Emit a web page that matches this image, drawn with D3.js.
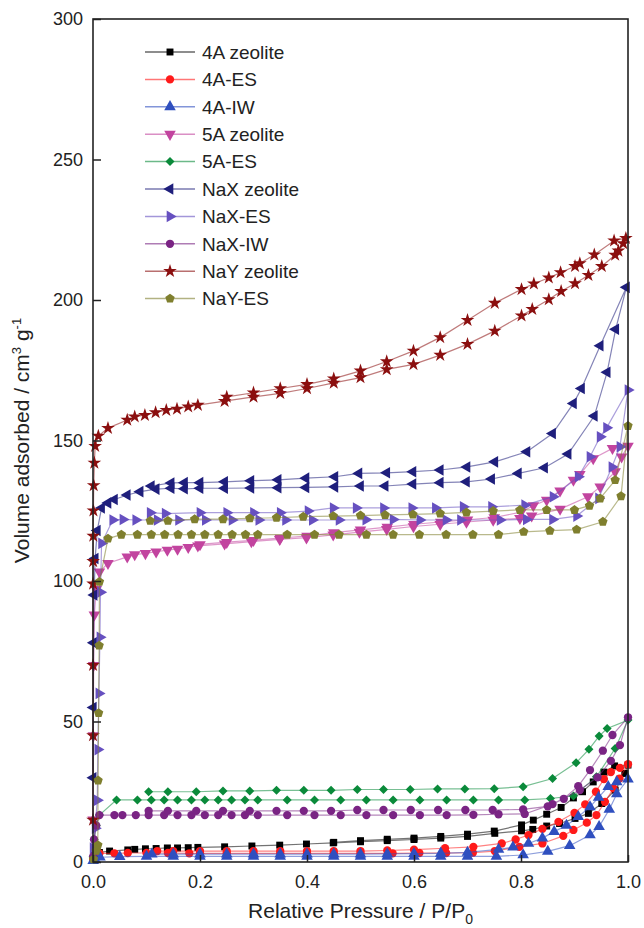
<!DOCTYPE html>
<html>
<head>
<meta charset="utf-8">
<script src="https://cdn.jsdelivr.net/npm/d3@7"></script>
<style>
  body { margin: 0; background: #fff; }
  svg text { font-family: "Liberation Sans", Arial, sans-serif; fill: #222; }
</style>
</head>
<body>
<div id="chart"></div>
<script>
// series names, colours and marker shapes (legend order)
var names = ["4A zeolite", "4A-ES", "4A-IW", "5A zeolite", "5A-ES", "NaX zeolite", "NaX-ES", "NaX-IW", "NaY zeolite", "NaY-ES"];
var colors = ["#000000", "#ff1a1a", "#2f4fbf", "#c2449f", "#0a8a3a", "#1f1f7c", "#6650c0", "#7a2484", "#8b0f0f", "#7f7f2e"];
var shapes = ["square", "circle", "up", "down", "diamond", "left", "right", "circle", "star", "pentagon"];

var xTicks = [0, 0.2, 0.4, 0.6, 0.8, 1.0];
var yTicks = [0, 50, 100, 150, 200, 250, 300];

// [P/P0, volume] : adsorption up to 1.0, then desorption back down
var s4A = [[0.0003,1.0],[0.002,2.5],[0.012,3.4],[0.031,3.9],[0.065,4.3],[0.078,4.5],[0.098,4.7],[0.118,4.8],[0.139,5.0],[0.158,5.0],[0.178,5.1],[0.196,5.2],[0.246,5.4],[0.297,5.7],[0.349,6.0],[0.399,6.4],[0.449,6.8],[0.5,7.2],[0.55,7.6],[0.6,8.0],[0.65,8.5],[0.7,9.1],[0.751,10.2],[0.801,11.1],[0.822,11.6],[0.848,12.8],[0.872,13.7],[0.901,15.5],[0.926,17.3],[0.951,20.8],[0.976,25.6],[0.994,31.5],[1.0,34.5],
  [0.975,34.2],[0.955,32.0],[0.935,28.5],[0.915,25.0],[0.898,22.8],[0.875,19.4],[0.848,17.0],[0.823,14.9],[0.801,13.2],[0.75,11.0],[0.7,9.9],[0.65,9.1],[0.6,8.5],[0.55,8.1],[0.5,7.6],[0.45,7.0]];

var s4AES = [[0.0003,0.8],[0.002,2.0],[0.012,3.1],[0.04,3.1],[0.065,3.2],[0.1,3.2],[0.14,3.2],[0.18,3.1],[0.2,3.1],[0.25,3.1],[0.3,3.1],[0.35,3.1],[0.4,3.1],[0.45,3.1],[0.5,3.1],[0.56,3.1],[0.61,3.2],[0.66,3.2],[0.71,3.3],[0.751,3.9],[0.797,5.4],[0.84,6.6],[0.879,9.3],[0.898,11.4],[0.923,14.0],[0.941,16.7],[0.957,21.4],[0.973,26.2],[0.984,29.7],[1.0,34.8],
  [0.985,33.5],[0.968,32.0],[0.955,29.5],[0.94,25.0],[0.92,20.5],[0.9,17.5],[0.87,14.3],[0.84,11.8],[0.814,9.6],[0.79,8.0],[0.764,6.6],[0.711,5.4],[0.658,4.9],[0.6,4.4],[0.55,4.1],[0.5,3.9],[0.45,3.9],[0.4,3.9],[0.35,3.9],[0.3,3.9],[0.25,3.9],[0.2,3.9],[0.15,3.9],[0.12,3.9]];

var s4AIW = [[0.0003,0.5],[0.003,1.2],[0.013,1.7],[0.05,1.9],[0.1,2.0],[0.15,2.0],[0.2,2.0],[0.25,2.0],[0.3,2.0],[0.35,2.0],[0.4,2.0],[0.45,2.0],[0.5,2.0],[0.55,2.0],[0.6,2.0],[0.65,2.0],[0.7,2.0],[0.754,2.0],[0.804,2.5],[0.85,3.8],[0.891,5.8],[0.929,9.6],[0.946,12.6],[0.965,18.7],[0.979,24.2],[1.0,29.5],
  [0.979,28.5],[0.963,26.8],[0.945,23.0],[0.929,19.6],[0.907,16.1],[0.885,13.0],[0.862,10.8],[0.84,8.5],[0.814,6.6],[0.785,5.3],[0.758,4.5],[0.7,3.4],[0.65,3.1],[0.6,3.0],[0.55,2.9],[0.5,2.8],[0.45,2.8],[0.4,2.8],[0.35,2.8],[0.3,2.8],[0.25,2.8],[0.2,2.8],[0.15,2.8],[0.11,2.8]];

var s5A = [[0.0002,15],[0.0006,45],[0.0012,70],[0.0025,88],[0.006,97],[0.012,103.3],[0.028,106.3],[0.064,108.6],[0.078,109.4],[0.098,109.8],[0.118,110.4],[0.139,111.0],[0.158,111.4],[0.178,112.0],[0.196,112.5],[0.246,113.2],[0.296,114.0],[0.349,114.8],[0.399,115.4],[0.449,116.4],[0.498,117.4],[0.549,118.4],[0.599,119.4],[0.649,120.2],[0.698,121.0],[0.748,121.7],[0.798,122.3],[0.82,123.2],[0.873,125.6],[0.925,130.0],[0.948,133.5],[0.976,138.9],[0.988,144.2],[1.0,148.0],
  [0.971,147.2],[0.935,143.6],[0.91,138.0],[0.898,135.9],[0.873,132.1],[0.848,128.8],[0.823,126.8],[0.8,124.5],[0.75,122.6],[0.7,121.8],[0.65,121.0],[0.6,120.2],[0.55,119.2],[0.5,118.2],[0.45,117.2],[0.4,116.0],[0.35,115.3],[0.3,114.5],[0.25,113.8],[0.2,113.0]];

var s5AES = [[0.0003,2],[0.002,8],[0.006,13],[0.012,16.7],[0.044,22.1],[0.083,22.1],[0.109,22.1],[0.133,22.1],[0.158,22.1],[0.184,22.1],[0.209,22.1],[0.234,22.1],[0.259,22.1],[0.284,22.1],[0.308,22.1],[0.363,22.1],[0.414,22.1],[0.463,22.1],[0.511,22.1],[0.561,22.1],[0.611,22.1],[0.661,22.1],[0.711,22.1],[0.758,22.1],[0.807,22.1],[0.855,22.6],[0.898,23.5],[0.941,30.3],[0.976,40.4],[1.0,50.5],
  [0.961,47.5],[0.946,44.8],[0.927,40.1],[0.903,35.3],[0.859,29.7],[0.804,26.8],[0.75,26.1],[0.695,26.0],[0.644,26.0],[0.593,25.8],[0.543,25.8],[0.494,25.8],[0.445,25.5],[0.394,25.5],[0.343,25.5],[0.293,25.3],[0.243,25.3],[0.193,25.0],[0.14,25.0],[0.104,25.0]];

var sNaX = [[0.0002,30],[0.0005,55],[0.001,78],[0.002,95],[0.004,108],[0.008,118],[0.016,126],[0.028,127.8],[0.04,129],[0.064,130.6],[0.088,131.8],[0.118,132.7],[0.146,133.0],[0.171,132.8],[0.2,133.0],[0.246,133.0],[0.295,133.1],[0.346,133.2],[0.398,133.3],[0.452,133.5],[0.5,133.8],[0.546,133.8],[0.598,134.5],[0.649,135.0],[0.698,135.3],[0.745,136.3],[0.795,138.3],[0.844,140.3],[0.888,145.2],[0.937,158.7],[0.961,174.3],[0.977,189.6],[0.997,204.5],
  [0.948,183.7],[0.913,168.5],[0.898,163.2],[0.859,152.5],[0.811,146.0],[0.751,142.4],[0.699,140.6],[0.649,139.5],[0.598,138.9],[0.549,138.5],[0.497,138.3],[0.452,137.1],[0.398,136.6],[0.346,136.0],[0.295,135.7],[0.246,135.3],[0.2,135.0],[0.171,135.0],[0.146,134.9],[0.109,133.8]];

var sNaXES = [[0.0003,5],[0.004,12],[0.008,22],[0.009,40],[0.011,60],[0.013,80],[0.014,96],[0.016,113.4],[0.037,121.7],[0.056,121.9],[0.08,121.7],[0.12,121.7],[0.16,121.7],[0.21,121.7],[0.26,121.7],[0.31,121.7],[0.36,121.7],[0.41,121.7],[0.46,121.7],[0.51,121.8],[0.561,121.9],[0.611,121.7],[0.66,121.7],[0.687,121.7],[0.761,121.7],[0.81,121.9],[0.859,121.9],[0.904,123.1],[0.945,129.4],[0.97,140.6],[0.985,147.8],[1.0,168.0],
  [0.96,154.5],[0.948,151.3],[0.929,144.2],[0.907,137.1],[0.86,130.0],[0.807,127.0],[0.745,126.4],[0.692,126.4],[0.64,126.0],[0.596,126.0],[0.543,126.0],[0.492,126.0],[0.449,126.0],[0.402,124.9],[0.35,124.3],[0.3,124.3],[0.25,124.3],[0.2,124.3],[0.135,124.0],[0.107,124.3]];

var sNaXIW = [[0.0003,2],[0.002,8],[0.006,13],[0.012,16.7],[0.04,16.7],[0.055,16.7],[0.08,16.7],[0.104,16.7],[0.133,16.7],[0.158,16.7],[0.184,16.7],[0.209,16.7],[0.234,16.7],[0.259,16.7],[0.284,16.7],[0.308,16.7],[0.363,16.7],[0.414,16.7],[0.463,16.7],[0.511,16.7],[0.561,16.7],[0.611,16.7],[0.661,16.7],[0.711,16.8],[0.758,17.0],[0.807,17.1],[0.859,20.6],[0.91,25.6],[0.943,30.1],[0.968,36.0],[0.985,41.6],[1.0,51.5],
  [0.971,45.2],[0.953,39.6],[0.929,32.7],[0.907,27.0],[0.88,22.5],[0.85,19.8],[0.804,18.7],[0.747,18.5],[0.696,18.5],[0.645,18.5],[0.594,18.5],[0.543,18.5],[0.494,18.5],[0.445,18.2],[0.394,18.2],[0.343,18.2],[0.293,18.2],[0.243,18.2],[0.193,18.2],[0.14,18.2],[0.104,18.2]];

var sNaY = [[0.00002,15],[0.00005,45],[0.0001,70],[0.0002,99],[0.0003,107],[0.0005,116],[0.0008,125],[0.0013,134],[0.0025,142],[0.004,148],[0.01,151.6],[0.028,154.4],[0.064,157.3],[0.078,158.5],[0.097,159.0],[0.117,160.0],[0.137,160.8],[0.157,161.2],[0.178,162.0],[0.196,162.6],[0.246,164.0],[0.3,165.5],[0.35,166.8],[0.4,168.5],[0.45,170.5],[0.5,172.4],[0.549,175.3],[0.599,177.1],[0.649,180.4],[0.7,184.3],[0.751,189.0],[0.801,194.4],[0.821,196.7],[0.852,200.2],[0.875,203.1],[0.901,205.9],[0.926,208.8],[0.951,212.0],[0.976,216.0],[0.982,217.5],[0.991,220.1],[0.996,222.0],
  [0.974,221.1],[0.937,216.1],[0.91,213.0],[0.901,212.0],[0.874,209.8],[0.852,207.9],[0.824,205.8],[0.801,203.8],[0.751,198.9],[0.7,192.8],[0.649,186.7],[0.599,181.9],[0.549,178.1],[0.5,174.8],[0.45,172.0],[0.4,170.0],[0.35,168.5],[0.3,167.0],[0.25,165.5]];

var sNaYES = [[0.001,1],[0.006,4],[0.009,6],[0.0095,29],[0.0105,53],[0.0115,77],[0.012,99.7],[0.028,115.1],[0.053,116.5],[0.083,116.5],[0.109,116.5],[0.134,116.5],[0.159,116.5],[0.184,116.5],[0.209,116.5],[0.234,116.5],[0.26,116.5],[0.285,116.5],[0.308,116.5],[0.363,116.5],[0.414,116.5],[0.46,116.5],[0.511,116.5],[0.561,116.5],[0.61,116.5],[0.66,116.5],[0.71,116.5],[0.758,116.5],[0.805,117.5],[0.854,117.9],[0.904,118.3],[0.953,121.1],[0.987,130.2],[1.0,155.2],
  [0.976,135.9],[0.948,129.4],[0.928,126.8],[0.9,125.3],[0.848,125.3],[0.798,125.3],[0.748,124.9],[0.698,124.4],[0.649,124.0],[0.598,123.7],[0.546,123.5],[0.5,123.3],[0.449,123.1],[0.393,122.9],[0.343,122.5],[0.293,122.3],[0.243,122.0],[0.19,122.0],[0.14,121.4],[0.107,121.4]];

var seriesData = [s4A, s4AES, s4AIW, s5A, s5AES, sNaX, sNaXES, sNaXIW, sNaY, sNaYES];

var W = 644, H = 928;
var m = {left: 93, right: 628, top: 19, bottom: 862};

var svg = d3.select("#chart").append("svg").attr("width", W).attr("height", H);

var x = d3.scaleLinear().domain([0, 1]).range([m.left, m.right]);
var y = d3.scaleLinear().domain([0, 300]).range([m.bottom, m.top]);

// marker shapes
var pentagon = {
  draw: function(ctx, size) {
    var r = Math.sqrt(size / 2.38);
    for (var i = 0; i < 5; i++) {
      var a = -Math.PI / 2 + i * 2 * Math.PI / 5;
      if (i === 0) ctx.moveTo(r * Math.cos(a), r * Math.sin(a));
      else ctx.lineTo(r * Math.cos(a), r * Math.sin(a));
    }
    ctx.closePath();
  }
};
function symPath(shape) {
  var t = d3.symbolTriangle;
  var map = {square: [d3.symbolSquare, 48], circle: [d3.symbolCircle, 54], up: [t, 58], down: [t, 58],
    left: [t, 58], right: [t, 58], diamond: [d3.symbolDiamond2, 52], star: [d3.symbolStar, 58], pentagon: [pentagon, 58]};
  return d3.symbol().type(map[shape][0]).size(map[shape][1])();
}
var rot = {down: 180, left: -90, right: 90};

var line = d3.line().x(function(d) { return x(d[0]); }).y(function(d) { return y(d[1]); });

seriesData.forEach(function(data, i) {
  var g = svg.append("g");
  g.append("path").datum(data)
    .attr("d", line)
    .attr("fill", "none")
    .attr("stroke", colors[i])
    .attr("stroke-opacity", 0.55)
    .attr("stroke-width", 1.2);
  g.selectAll("path.pt").data(data).enter().append("path")
    .attr("class", "pt")
    .attr("d", symPath(shapes[i]))
    .attr("transform", function(d) { return "translate(" + x(d[0]) + "," + y(d[1]) + ") rotate(" + (rot[shapes[i]] || 0) + ")"; })
    .attr("fill", colors[i]);
});

// axes, ticks pointing inward
var yAxis = svg.append("g").attr("transform", "translate(" + m.left + ",0)")
  .call(d3.axisLeft(y).tickValues(yTicks).tickSize(-8).tickPadding(10).tickFormat(d3.format("d")));
var xAxis = svg.append("g").attr("transform", "translate(0," + m.bottom + ")")
  .call(d3.axisBottom(x).tickValues(xTicks).tickSize(-7).tickPadding(13).tickFormat(d3.format(".1f")));
[yAxis, xAxis].forEach(function(a) {
  a.select(".domain").remove();
  a.selectAll("line").attr("stroke", "#222").attr("stroke-width", 1.5);
  a.selectAll("text").attr("font-size", 18).attr("fill", "#222")
    .style("font-family", "'Liberation Sans', Arial, sans-serif");
});

svg.append("rect").attr("x", m.left).attr("y", m.top)
  .attr("width", m.right - m.left).attr("height", m.bottom - m.top)
  .attr("fill", "none").attr("stroke", "#222").attr("stroke-width", 1.6);

// axis titles
var xt = svg.append("text").attr("x", (m.left + m.right) / 2).attr("y", 918)
  .attr("text-anchor", "middle").attr("font-size", 21);
xt.append("tspan").text("Relative Pressure / P/P");
xt.append("tspan").attr("font-size", 14).attr("dy", 6).text("0");

var yt = svg.append("text").attr("transform", "translate(29," + ((m.top + m.bottom) / 2) + ") rotate(-90)")
  .attr("text-anchor", "middle").attr("font-size", 21);
yt.append("tspan").text("Volume adsorbed / cm");
yt.append("tspan").attr("font-size", 13).attr("dy", -8).text("3");
yt.append("tspan").attr("dy", 8).text(" g");
yt.append("tspan").attr("font-size", 13).attr("dy", -8).text("-1");

// legend
var leg = svg.append("g");
names.forEach(function(n, i) {
  var ly = 52 + i * 27.4;
  leg.append("line").attr("x1", 145).attr("x2", 195).attr("y1", ly).attr("y2", ly)
    .attr("stroke", colors[i]).attr("stroke-opacity", 0.6).attr("stroke-width", 1.5);
  leg.append("path").attr("d", symPath(shapes[i]))
    .attr("transform", "translate(170," + ly + ") rotate(" + (rot[shapes[i]] || 0) + ")")
    .attr("fill", colors[i]);
  leg.append("text").attr("x", 202).attr("y", ly).attr("dy", "0.36em")
    .attr("font-size", 19).text(n);
});
</script>
</body>
</html>
